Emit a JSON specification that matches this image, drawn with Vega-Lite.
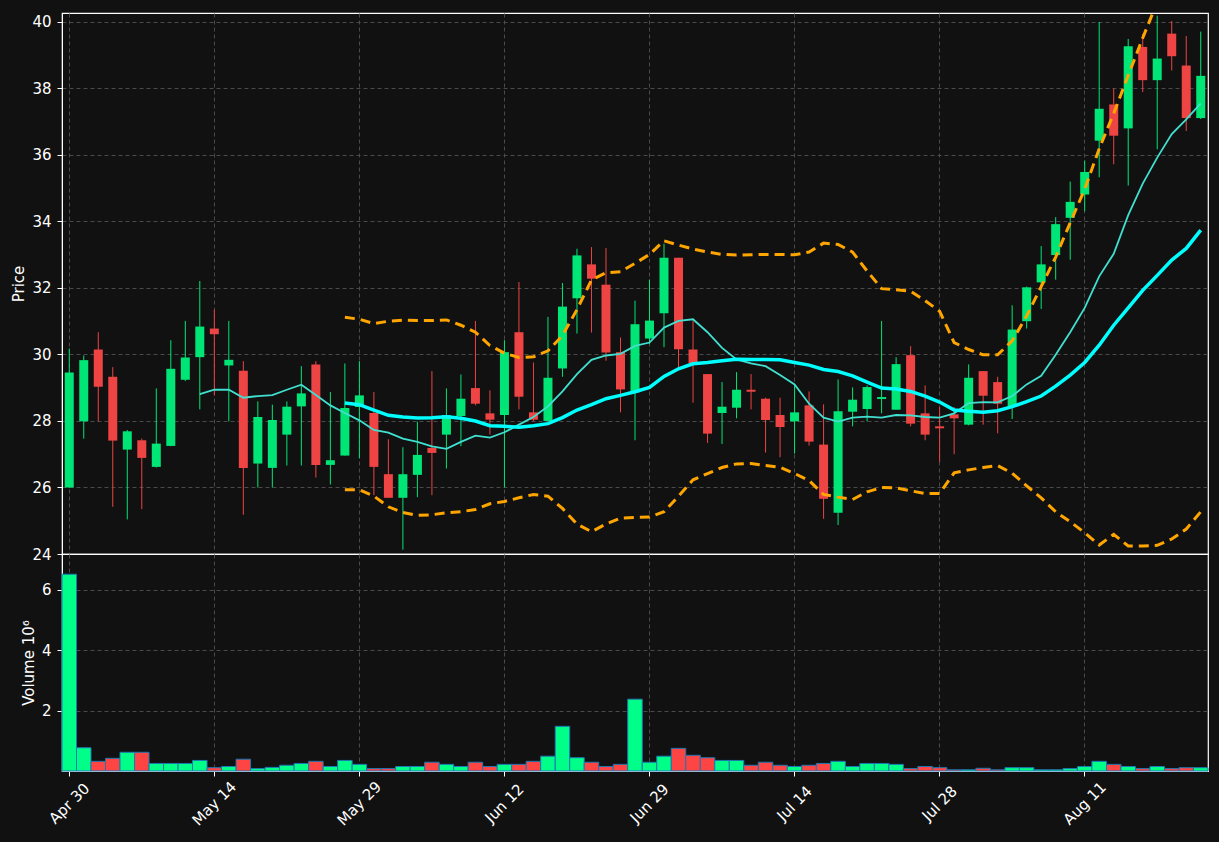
{
"$schema":"https://vega.github.io/schema/vega-lite/v6.json",
"background":"#111111",
"padding":{"left":11,"top":12,"right":11,"bottom":25},
"data":{"name":"d"},
"datasets":{"d":[
{"date":"Apr 30","o":26.00,"h":30.18,"l":25.99,"c":29.46,"v":6.52,"ma10":null,"ma20":null,"bbu":null,"bbl":null},
{"date":"May 1","o":27.99,"h":29.97,"l":27.47,"c":29.83,"v":0.77,"ma10":null,"ma20":null,"bbu":null,"bbl":null},
{"date":"May 2","o":30.15,"h":30.67,"l":27.99,"c":29.03,"v":0.32,"ma10":null,"ma20":null,"bbu":null,"bbl":null},
{"date":"May 5","o":29.33,"h":29.62,"l":25.42,"c":27.41,"v":0.42,"ma10":null,"ma20":null,"bbu":null,"bbl":null},
{"date":"May 6","o":27.14,"h":27.73,"l":25.04,"c":27.69,"v":0.62,"ma10":null,"ma20":null,"bbu":null,"bbl":null},
{"date":"May 7","o":27.42,"h":27.47,"l":25.35,"c":26.89,"v":0.62,"ma10":null,"ma20":null,"bbu":null,"bbl":null},
{"date":"May 8","o":26.62,"h":28.98,"l":26.60,"c":27.32,"v":0.25,"ma10":null,"ma20":null,"bbu":null,"bbl":null},
{"date":"May 9","o":27.25,"h":30.43,"l":27.24,"c":29.57,"v":0.25,"ma10":null,"ma20":null,"bbu":null,"bbl":null},
{"date":"May 12","o":29.24,"h":31.01,"l":29.20,"c":29.91,"v":0.25,"ma10":null,"ma20":null,"bbu":null,"bbl":null},
{"date":"May 13","o":29.92,"h":32.21,"l":28.35,"c":30.84,"v":0.35,"ma10":28.81,"ma20":null,"bbu":null,"bbl":null},
{"date":"May 14","o":30.78,"h":31.35,"l":28.77,"c":30.61,"v":0.11,"ma10":28.94,"ma20":null,"bbu":null,"bbl":null},
{"date":"May 15","o":29.67,"h":31.01,"l":27.99,"c":29.84,"v":0.15,"ma10":28.94,"ma20":null,"bbu":null,"bbl":null},
{"date":"May 16","o":29.51,"h":29.80,"l":25.18,"c":26.59,"v":0.39,"ma10":28.70,"ma20":null,"bbu":null,"bbl":null},
{"date":"May 19","o":26.72,"h":28.59,"l":26.00,"c":28.12,"v":0.08,"ma10":28.75,"ma20":null,"bbu":null,"bbl":null},
{"date":"May 20","o":26.59,"h":28.49,"l":26.00,"c":28.03,"v":0.12,"ma10":28.78,"ma20":null,"bbu":null,"bbl":null},
{"date":"May 21","o":27.59,"h":28.59,"l":26.66,"c":28.43,"v":0.19,"ma10":28.94,"ma20":null,"bbu":null,"bbl":null},
{"date":"May 22","o":28.44,"h":29.65,"l":26.66,"c":28.83,"v":0.25,"ma10":29.09,"ma20":null,"bbu":null,"bbl":null},
{"date":"May 23","o":29.70,"h":29.80,"l":26.30,"c":26.68,"v":0.32,"ma10":28.78,"ma20":null,"bbu":null,"bbl":null},
{"date":"May 27","o":26.68,"h":28.87,"l":26.09,"c":26.82,"v":0.15,"ma10":28.47,"ma20":null,"bbu":null,"bbl":null},
{"date":"May 28","o":26.96,"h":29.73,"l":26.96,"c":28.39,"v":0.35,"ma10":28.24,"ma20":28.54,"bbu":31.12,"bbl":25.93},
{"date":"May 29","o":28.42,"h":29.80,"l":26.88,"c":28.77,"v":0.22,"ma10":28.02,"ma20":28.49,"bbu":31.06,"bbl":25.93},
{"date":"May 30","o":28.24,"h":28.87,"l":25.77,"c":26.62,"v":0.08,"ma10":27.73,"ma20":28.33,"bbu":30.93,"bbl":25.74},
{"date":"Jun 2","o":26.40,"h":27.45,"l":25.69,"c":25.69,"v":0.08,"ma10":27.65,"ma20":28.17,"bbu":31.00,"bbl":25.42},
{"date":"Jun 3","o":25.69,"h":27.21,"l":24.13,"c":26.40,"v":0.15,"ma10":27.47,"ma20":28.12,"bbu":31.03,"bbl":25.25},
{"date":"Jun 4","o":26.38,"h":27.98,"l":25.71,"c":26.98,"v":0.15,"ma10":27.37,"ma20":28.09,"bbu":31.02,"bbl":25.16},
{"date":"Jun 5","o":27.19,"h":29.50,"l":25.77,"c":27.04,"v":0.29,"ma10":27.24,"ma20":28.10,"bbu":31.02,"bbl":25.18},
{"date":"Jun 6","o":27.59,"h":28.98,"l":26.57,"c":28.18,"v":0.22,"ma10":27.16,"ma20":28.13,"bbu":31.04,"bbl":25.24},
{"date":"Jun 9","o":28.15,"h":29.40,"l":27.24,"c":28.67,"v":0.15,"ma10":27.37,"ma20":28.08,"bbu":30.88,"bbl":25.27},
{"date":"Jun 10","o":28.99,"h":31.01,"l":28.47,"c":28.52,"v":0.29,"ma10":27.56,"ma20":28.00,"bbu":30.67,"bbl":25.34},
{"date":"Jun 11","o":28.23,"h":28.92,"l":27.59,"c":28.04,"v":0.15,"ma10":27.50,"ma20":27.86,"bbu":30.27,"bbl":25.51},
{"date":"Jun 12","o":28.18,"h":30.43,"l":26.00,"c":30.07,"v":0.22,"ma10":27.66,"ma20":27.84,"bbu":30.04,"bbl":25.58},
{"date":"Jun 13","o":30.67,"h":32.18,"l":28.35,"c":28.73,"v":0.22,"ma10":27.89,"ma20":27.81,"bbu":29.91,"bbl":25.69},
{"date":"Jun 16","o":28.26,"h":29.76,"l":28.00,"c":28.04,"v":0.32,"ma10":28.12,"ma20":27.86,"bbu":29.93,"bbl":25.79},
{"date":"Jun 17","o":28.00,"h":31.13,"l":28.00,"c":29.30,"v":0.49,"ma10":28.44,"ma20":27.92,"bbu":30.11,"bbl":25.74},
{"date":"Jun 18","o":29.58,"h":32.15,"l":29.33,"c":31.44,"v":1.48,"ma10":28.89,"ma20":28.10,"bbu":30.57,"bbl":25.37},
{"date":"Jun 20","o":31.69,"h":33.18,"l":30.63,"c":32.98,"v":0.44,"ma10":29.41,"ma20":28.33,"bbu":31.35,"bbl":24.90},
{"date":"Jun 23","o":32.71,"h":33.23,"l":30.66,"c":32.28,"v":0.29,"ma10":29.84,"ma20":28.49,"bbu":32.24,"bbl":24.67},
{"date":"Jun 24","o":32.10,"h":33.20,"l":29.81,"c":30.06,"v":0.15,"ma10":29.97,"ma20":28.67,"bbu":32.46,"bbl":24.90},
{"date":"Jun 25","o":30.07,"h":30.51,"l":28.26,"c":28.95,"v":0.22,"ma10":30.02,"ma20":28.77,"bbu":32.49,"bbl":25.08},
{"date":"Jun 26","o":28.86,"h":31.62,"l":27.42,"c":30.91,"v":2.38,"ma10":30.26,"ma20":28.88,"bbu":32.74,"bbl":25.10},
{"date":"Jun 29","o":30.48,"h":32.25,"l":30.31,"c":31.02,"v":0.29,"ma10":30.36,"ma20":29.01,"bbu":33.01,"bbl":25.11},
{"date":"Jun 30","o":31.24,"h":33.33,"l":30.22,"c":32.91,"v":0.49,"ma10":30.81,"ma20":29.34,"bbu":33.42,"bbl":25.27},
{"date":"Jul 1","o":32.91,"h":32.91,"l":29.60,"c":30.16,"v":0.75,"ma10":31.01,"ma20":29.57,"bbu":33.29,"bbl":25.74},
{"date":"Jul 2","o":30.15,"h":31.01,"l":28.55,"c":29.73,"v":0.52,"ma10":31.06,"ma20":29.72,"bbu":33.17,"bbl":26.23},
{"date":"Jul 3","o":29.41,"h":29.41,"l":27.34,"c":27.62,"v":0.44,"ma10":30.67,"ma20":29.76,"bbu":33.08,"bbl":26.42},
{"date":"Jul 7","o":28.24,"h":29.17,"l":27.31,"c":28.43,"v":0.35,"ma10":30.20,"ma20":29.81,"bbu":33.01,"bbl":26.60},
{"date":"Jul 8","o":28.40,"h":29.47,"l":28.08,"c":28.94,"v":0.35,"ma10":29.85,"ma20":29.86,"bbu":32.99,"bbl":26.71},
{"date":"Jul 9","o":28.94,"h":29.41,"l":28.35,"c":28.88,"v":0.19,"ma10":29.73,"ma20":29.85,"bbu":33.00,"bbl":26.72},
{"date":"Jul 10","o":28.67,"h":28.70,"l":27.05,"c":28.03,"v":0.29,"ma10":29.65,"ma20":29.85,"bbu":33.01,"bbl":26.66},
{"date":"Jul 11","o":28.18,"h":28.70,"l":26.91,"c":27.82,"v":0.19,"ma10":29.38,"ma20":29.84,"bbu":33.01,"bbl":26.61},
{"date":"Jul 14","o":27.99,"h":29.07,"l":27.02,"c":28.26,"v":0.15,"ma10":29.10,"ma20":29.76,"bbu":33.00,"bbl":26.42},
{"date":"Jul 15","o":28.47,"h":28.89,"l":27.26,"c":27.38,"v":0.19,"ma10":28.52,"ma20":29.68,"bbu":33.08,"bbl":26.21},
{"date":"Jul 16","o":27.29,"h":28.50,"l":25.06,"c":25.66,"v":0.25,"ma10":28.10,"ma20":29.55,"bbu":33.35,"bbl":25.79},
{"date":"Jul 17","o":25.24,"h":29.25,"l":24.87,"c":28.29,"v":0.32,"ma10":27.98,"ma20":29.49,"bbu":33.31,"bbl":25.71},
{"date":"Jul 18","o":28.28,"h":29.01,"l":27.84,"c":28.64,"v":0.15,"ma10":28.10,"ma20":29.36,"bbu":33.08,"bbl":25.64},
{"date":"Jul 21","o":28.36,"h":29.07,"l":27.99,"c":29.02,"v":0.25,"ma10":28.13,"ma20":29.17,"bbu":32.51,"bbl":25.87},
{"date":"Jul 22","o":28.66,"h":31.01,"l":28.23,"c":28.72,"v":0.25,"ma10":28.10,"ma20":28.99,"bbu":31.98,"bbl":26.00},
{"date":"Jul 23","o":28.34,"h":29.92,"l":28.34,"c":29.71,"v":0.22,"ma10":28.18,"ma20":28.96,"bbu":31.95,"bbl":25.99},
{"date":"Jul 24","o":29.98,"h":30.25,"l":27.84,"c":27.92,"v":0.08,"ma10":28.17,"ma20":28.89,"bbu":31.90,"bbl":25.90},
{"date":"Jul 25","o":28.23,"h":29.07,"l":27.42,"c":27.59,"v":0.15,"ma10":28.12,"ma20":28.75,"bbu":31.62,"bbl":25.82},
{"date":"Jul 28","o":27.84,"h":28.42,"l":26.77,"c":27.78,"v":0.11,"ma10":28.10,"ma20":28.57,"bbu":31.30,"bbl":25.82},
{"date":"Jul 29","o":28.20,"h":28.42,"l":27.00,"c":28.08,"v":0.04,"ma10":28.23,"ma20":28.33,"bbu":30.36,"bbl":26.44},
{"date":"Jul 30","o":27.89,"h":29.70,"l":27.87,"c":29.30,"v":0.04,"ma10":28.54,"ma20":28.29,"bbu":30.15,"bbl":26.53},
{"date":"Jul 31","o":29.50,"h":29.50,"l":27.89,"c":28.76,"v":0.09,"ma10":28.57,"ma20":28.26,"bbu":29.99,"bbl":26.60},
{"date":"Aug 1","o":29.17,"h":29.33,"l":27.63,"c":28.52,"v":0.04,"ma10":28.56,"ma20":28.31,"bbu":29.99,"bbl":26.66},
{"date":"Aug 4","o":28.42,"h":31.48,"l":28.06,"c":30.75,"v":0.11,"ma10":28.75,"ma20":28.43,"bbu":30.41,"bbl":26.43},
{"date":"Aug 5","o":31.00,"h":32.04,"l":30.78,"c":32.02,"v":0.11,"ma10":29.10,"ma20":28.58,"bbu":31.16,"bbl":26.05},
{"date":"Aug 6","o":32.17,"h":33.26,"l":31.37,"c":32.71,"v":0.04,"ma10":29.36,"ma20":28.75,"bbu":32.04,"bbl":25.69},
{"date":"Aug 7","o":32.99,"h":34.13,"l":32.25,"c":33.92,"v":0.04,"ma10":29.99,"ma20":29.05,"bbu":32.93,"bbl":25.27},
{"date":"Aug 8","o":34.11,"h":35.20,"l":32.85,"c":34.59,"v":0.08,"ma10":30.67,"ma20":29.38,"bbu":33.96,"bbl":24.97},
{"date":"Aug 11","o":34.81,"h":35.83,"l":34.31,"c":35.49,"v":0.15,"ma10":31.40,"ma20":29.76,"bbu":34.97,"bbl":24.64},
{"date":"Aug 12","o":36.43,"h":40.00,"l":35.33,"c":37.39,"v":0.32,"ma10":32.35,"ma20":30.28,"bbu":36.19,"bbl":24.27},
{"date":"Aug 13","o":37.52,"h":38.00,"l":35.72,"c":36.58,"v":0.22,"ma10":33.03,"ma20":30.88,"bbu":37.25,"bbl":24.59},
{"date":"Aug 14","o":36.80,"h":39.49,"l":35.08,"c":39.27,"v":0.15,"ma10":34.19,"ma20":31.40,"bbu":38.39,"bbl":24.24},
{"date":"Aug 15","o":39.25,"h":39.64,"l":37.89,"c":38.25,"v":0.08,"ma10":35.14,"ma20":31.93,"bbu":39.52,"bbl":24.24},
{"date":"Aug 18","o":38.25,"h":40.19,"l":36.17,"c":38.90,"v":0.15,"ma10":35.92,"ma20":32.38,"bbu":40.6,"bbl":24.26},
{"date":"Aug 19","o":39.65,"h":40.03,"l":38.54,"c":38.97,"v":0.08,"ma10":36.63,"ma20":32.84,"bbu":41.3,"bbl":24.45},
{"date":"Aug 20","o":38.69,"h":39.58,"l":36.72,"c":37.11,"v":0.11,"ma10":37.07,"ma20":33.19,"bbu":41.7,"bbl":24.75},
{"date":"Aug 21","o":37.11,"h":39.71,"l":37.08,"c":38.38,"v":0.11,"ma10":37.55,"ma20":33.74,"bbu":42.0,"bbl":25.27}
]},
"vconcat":[
{
 "width":1146,"height":541,
 "encoding":{
  "x":{"field":"date","type":"ordinal","sort":null,"title":null,
       "scale":{"type":"band","paddingInner":0,"paddingOuter":0},
       "axis":{"values":["Apr 30","May 14","May 29","Jun 12","Jun 29","Jul 14","Jul 28","Aug 11"],"grid":true,"labels":false,"ticks":false,"domain":false,"bandPosition":0.5}}
 },
 "layer":[
  {"mark":{"type":"rule","strokeWidth":1},
   "encoding":{
    "y":{"field":"l","type":"quantitative","title":"Price","scale":{"domain":[24,40.27],"nice":false,"zero":false},"axis":{"values":[24,26,28,30,32,34,36,38,40],"grid":true}},
    "y2":{"field":"h"},
    "color":{"condition":{"test":"datum.c >= datum.o","value":"#00e676"},"value":"#ee4444"}}},
  {"mark":{"type":"bar","size":9},
   "encoding":{
    "y":{"field":"o","type":"quantitative","title":"Price","scale":{"domain":[24,40.27],"nice":false,"zero":false}},
    "y2":{"field":"c"},
    "color":{"condition":{"test":"datum.c >= datum.o","value":"#00e676"},"value":"#ee4444"}}},
  {"mark":{"type":"line","color":"#40e0d0","strokeWidth":1.8,"clip":true},
   "encoding":{"y":{"field":"ma10","type":"quantitative","title":"Price","scale":{"domain":[24,40.27],"nice":false,"zero":false}}}},
  {"mark":{"type":"line","color":"#00ffff","strokeWidth":3.5,"clip":true},
   "encoding":{"y":{"field":"ma20","type":"quantitative","title":"Price","scale":{"domain":[24,40.27],"nice":false,"zero":false}}}},
  {"mark":{"type":"line","color":"#ffa500","strokeWidth":3,"strokeDash":[10,6],"clip":true},
   "encoding":{"y":{"field":"bbu","type":"quantitative","title":"Price","scale":{"domain":[24,40.27],"nice":false,"zero":false}}}},
  {"mark":{"type":"line","color":"#ffa500","strokeWidth":3,"strokeDash":[10,6],"clip":true},
   "encoding":{"y":{"field":"bbl","type":"quantitative","title":"Price","scale":{"domain":[24,40.27],"nice":false,"zero":false}}}}
 ]
},
{
 "width":1146,"height":217,
 "mark":{"type":"bar","stroke":"#1f77b4","strokeWidth":1},
 "encoding":{
  "x":{"field":"date","type":"ordinal","sort":null,"title":null,
       "scale":{"type":"band","paddingInner":0,"paddingOuter":0},
       "axis":{"values":["Apr 30","May 14","May 29","Jun 12","Jun 29","Jul 14","Jul 28","Aug 11"],"grid":true,"bandPosition":0.5,"labelAngle":-45,"labelAlign":"center","labelBaseline":"middle","labelPadding":27}},
  "y":{"field":"v","type":"quantitative","title":"Volume  10⁶","scale":{"domain":[0,7.19],"nice":false},"axis":{"values":[2,4,6],"grid":true}},
  "color":{"condition":{"test":"datum.c >= datum.o","value":"#00ff88"},"value":"#ff4444"}
 }
}
],
"spacing":0,
"bounds":"flush",
"config":{
 "view":{"stroke":"#ffffff","strokeWidth":1.2},
 "axis":{"labelColor":"#ffffff","titleColor":"#ffffff","tickColor":"#ffffff","domainColor":"#ffffff","gridColor":"#4a4a4a","gridDash":[4,3],"gridWidth":1,"labelFont":"DejaVu Sans","titleFont":"DejaVu Sans","labelFontSize":15,"titleFontSize":15,"titleFontWeight":"normal","tickSize":5,"labelPadding":6,"titlePadding":5}
}
}
